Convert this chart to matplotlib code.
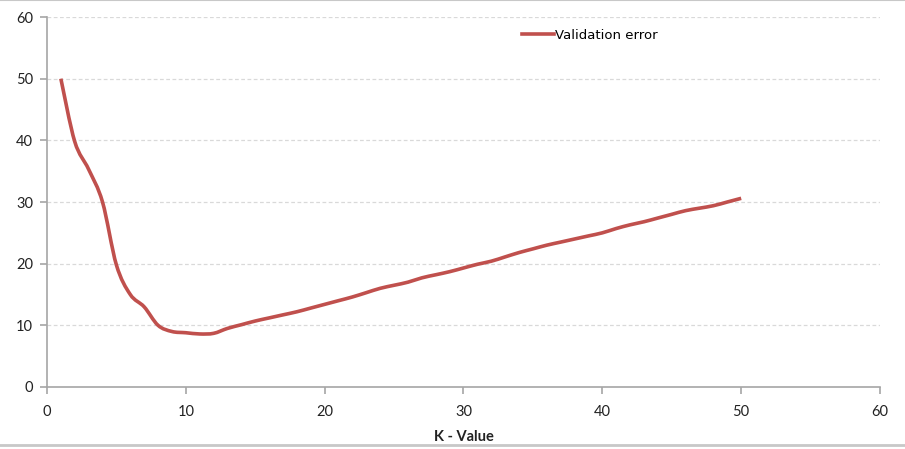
import numpy as np
import matplotlib
matplotlib.use("Agg")
import matplotlib.pyplot as plt
from matplotlib.path import Path
from matplotlib.patches import PathPatch
from matplotlib.lines import Line2D

# values
k_values = list(range(1, 51))
val_error = [50.0, 39.8, 35.3, 30.0, 19.8, 15.0, 13.0, 10.0, 9.0, 8.8,
             8.6, 8.7, 9.5, 10.1, 10.7, 11.2, 11.7, 12.2, 12.8, 13.4,
             14.0, 14.6, 15.3, 16.0, 16.5, 17.0, 17.7, 18.2, 18.7, 19.3,
             19.9, 20.4, 21.1, 21.8, 22.4, 23.0, 23.5, 24.0, 24.5, 25.0,
             25.7, 26.3, 26.8, 27.4, 28.0, 28.6, 29.0, 29.4, 30.0, 30.6]
x_ticks = [0, 10, 20, 30, 40, 50, 60]
y_ticks = [0, 10, 20, 30, 40, 50, 60]
series_name = "Validation error"
x_label = "K - Value"

LINE_COLOR = "#C0504D"
AXIS_COLOR = "#A6A6A6"
GRID_COLOR = "#D9D9D9"


def smooth_path(xs, ys, tension=1 / 6):
    # Excel-like smoothed line: Catmull-Rom segments as cubic Beziers
    xs = np.asarray(xs, float)
    ys = np.asarray(ys, float)
    n = len(xs)
    verts = [(xs[0], ys[0])]
    codes = [Path.MOVETO]
    for i in range(n - 1):
        p0 = i - 1 if i > 0 else i
        p3 = i + 2 if i + 2 < n else i + 1
        c1 = (xs[i] + (xs[i + 1] - xs[p0]) * tension,
              ys[i] + (ys[i + 1] - ys[p0]) * tension)
        c2 = (xs[i + 1] - (xs[p3] - xs[i]) * tension,
              ys[i + 1] - (ys[p3] - ys[i]) * tension)
        verts += [c1, c2, (xs[i + 1], ys[i + 1])]
        codes += [Path.CURVE4] * 3
    return Path(verts, codes)


fig = plt.figure(figsize=(9.05, 4.49), dpi=100)
ax = fig.add_axes([0.0519, 0.1381, 0.9205, 0.824])

patch = PathPatch(smooth_path(k_values, val_error), facecolor="none",
                  edgecolor=LINE_COLOR, lw=2.6, capstyle="butt", zorder=3)
ax.add_patch(patch)

ax.set_xlim(0, 60)
ax.set_ylim(0, 60)
ax.set_xticks(x_ticks)
ax.set_yticks(y_ticks)

for side in ["top", "right"]:
    ax.spines[side].set_visible(False)
for side in ["left", "bottom"]:
    ax.spines[side].set_color(AXIS_COLOR)
    ax.spines[side].set_linewidth(1.2)

ax.yaxis.grid(True, color=GRID_COLOR, linestyle=(0, (3, 2)), linewidth=0.9)
ax.set_axisbelow(True)

ax.tick_params(axis="both", direction="out", color=AXIS_COLOR, length=5,
               width=1.2, labelsize=10.5, labelcolor="#222222")
ax.tick_params(axis="x", pad=8)
ax.tick_params(axis="y", pad=5)
for lbl in ax.get_xticklabels() + ax.get_yticklabels():
    lbl.set_family("Lato")

ax.set_xlabel(x_label, family="Lato", fontweight="bold", fontsize=10.5,
              color="#222222", labelpad=8)

handle = Line2D([], [], color=LINE_COLOR, lw=2.6)
ax.legend([handle], [series_name], loc="upper left",
          bbox_to_anchor=(0.556, 1.0), frameon=False,
          handlelength=2.4, handletextpad=0.1,
          prop={"family": "DejaVu Sans", "size": 9.5})

# light gray frame lines at top and bottom of the picture
fig.add_artist(Line2D([0, 1], [0.999, 0.999], color="#C8C8C8", lw=1.5,
                      transform=fig.transFigure))
fig.add_artist(Line2D([0, 1], [0.01, 0.01], color="#C8C8C8", lw=2,
                      transform=fig.transFigure))

fig.savefig("out.png", dpi=100)
